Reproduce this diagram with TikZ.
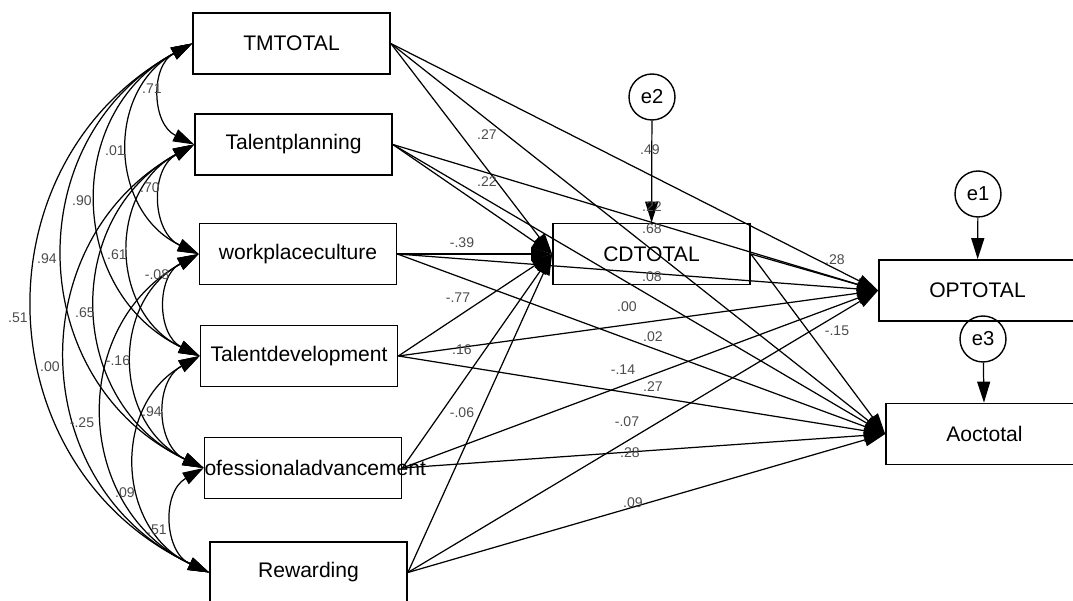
\documentclass[tikz,border=0pt]{standalone}
\usepackage{fontspec}
\setmainfont{Liberation Sans}
\usetikzlibrary{arrows.meta, positioning}
\tikzset{
  obs/.style={draw, line width=1pt, minimum width=3.94cm, minimum height=1.22cm,
              inner sep=0pt, font=\fontsize{12}{14}\selectfont},
  errvar/.style={draw, circle, line width=0.8pt, minimum size=0.92cm,
                 inner sep=0pt, font=\fontsize{11.5}{13}\selectfont},
  reg/.style={-{Triangle[length=0.42cm, width=0.26cm]}, line width=0.7pt},
  cov/.style={{Triangle[length=0.42cm, width=0.26cm]}-{Triangle[length=0.42cm, width=0.26cm]},
              line width=0.7pt, bend right=63, looseness=1.2},
  est/.style={font=\fontsize{8}{9}\selectfont, text=black!70, inner sep=0pt}
}
\begin{document}
\begin{tikzpicture}[x=0.02cm, y=-0.02cm]
  \clip (0,0) rectangle (1073,601);

  % exogenous variables
  \node[obs] (tm) at (291.5,43.5) {TMTOTAL};
  \node[obs] (tp) at (293.5,144.5) {Talentplanning};
  \node[obs] (wc) at (298,254) {workplaceculture};
  \node[obs] (td) at (299,356) {Talentdevelopment};
  \node[obs] (pa) at (303,468) {\makebox[3.94cm][l]{ofessionaladvancement}};
  \node[obs] (rw) at (308.5,572.5) {Rewarding};

  % endogenous variables
  \node[obs] (cd) at (651.5,254) {CDTOTAL};
  \node[obs] (op) at (977.5,290.5) {OPTOTAL};
  \node[obs] (ao) at (984.5,434) {Aoctotal};

  % error terms
  \node[errvar] (e2) at (652,97) {e2};
  \node[errvar] (e1) at (978,194) {e1};
  \node[errvar] (e3) at (983,339) {e3};

  % regression paths
  \foreach \s in {tm,tp,wc,td,pa,rw}
    \foreach \t in {cd,op,ao}
      \draw[reg] (\s.east) -- (\t.west);
  \draw[reg] (cd.east) -- (op.west);
  \draw[reg] (cd.east) -- (ao.west);
  \draw[reg] (e2) -- (cd);
  \draw[reg] (e1) -- (op);
  \draw[reg] (e3) -- (ao);

  % covariances
  \foreach \a/\b in {tm/tp,tm/wc,tm/td,tm/pa,tm/rw,
                     tp/wc,tp/td,tp/pa,tp/rw,
                     wc/td,wc/pa,wc/rw,
                     td/pa,td/rw,pa/rw}
    \draw[cov] (\a.west) to (\b.west);

  % estimates
  \foreach \x/\y/\v [count=\n] in {
      152/89/.71, 115/151/.01, 150/188/.70, 82/201/.90, 47/259/.94,
      117/255/.61, 157/275/-.08, 18/318/.51, 85/313/.65, 50/367/.00,
      118/361/-.16, 82/423/-.25, 152/412/.94, 125/493/.09, 157/530/.51,
      487/135/.27, 487/182/.22, 650/150/.49, 652/207/.22, 652/229/.68,
      652/277/.08, 462/243/-.39, 458/298/-.77, 462/350/.16, 462/413/-.06,
      627/307/.00, 653/337/.02, 623/370/-.14, 653/387/.27, 627/422/-.07,
      630/453/.28, 633/503/.09, 835/260/.28, 837/331/-.15}
    \node[est] (lab\n) at (\x,\y) {\v};
\end{tikzpicture}
\end{document}
